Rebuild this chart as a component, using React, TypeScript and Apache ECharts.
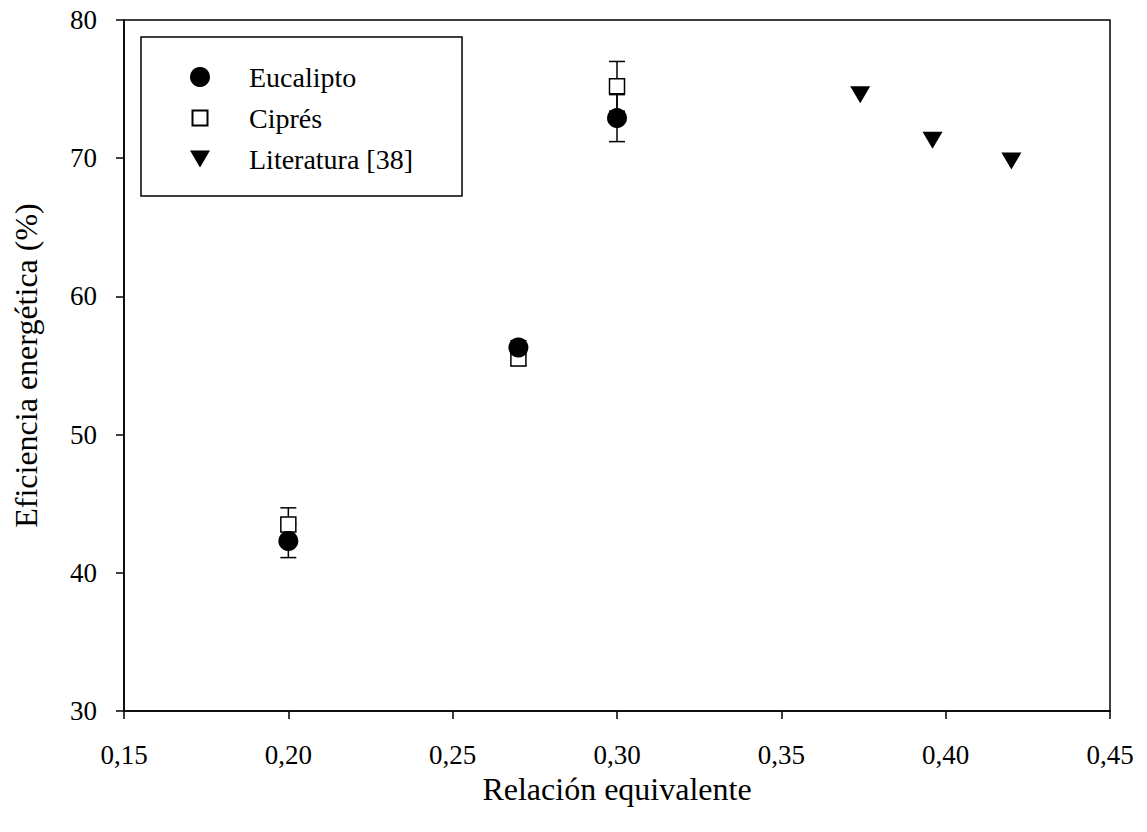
import React, { useEffect, useRef } from "react";
import * as echarts from "echarts";

// ---- Data ----
const xTicks = [0.15, 0.2, 0.25, 0.3, 0.35, 0.4, 0.45];
const yTicks = [30, 40, 50, 60, 70, 80];

const relEucalipto = [0.2, 0.27, 0.3];
const effEucalipto = [42.3, 56.3, 72.9];
const errEucalipto = [1.2, 0.5, 1.7];

const relCipres = [0.2, 0.27, 0.3];
const effCipres = [43.5, 55.5, 75.2];
const errCipres = [1.2, 0.5, 1.8];

const relLiteratura = [0.374, 0.396, 0.42];
const effLiteratura = [74.6, 71.3, 69.8];

const seriesNames = ["Eucalipto", "Ciprés", "Literatura [38]"];
const xTitle = "Relación equivalente";
const yTitle = "Eficiencia energética (%)";

const FONT = "Liberation Serif";
const TRI = "path://M0,0L20,0L10,17Z";
const SQUARE_ICON = "path://M0,0M20,20M2.5,2.5L17.5,2.5L17.5,17.5L2.5,17.5Z";

function errRender(params: any, api: any) {
  const x = api.value(0);
  const lo = api.value(1);
  const hi = api.value(2);
  const p1 = api.coord([x, lo]);
  const p2 = api.coord([x, hi]);
  const w = 8;
  const st = { stroke: "#000", lineWidth: 1.5 };
  return {
    type: "group",
    children: [
      { type: "line", shape: { x1: p1[0], y1: p1[1], x2: p2[0], y2: p2[1] }, style: st },
      { type: "line", shape: { x1: p1[0] - w, y1: p1[1], x2: p1[0] + w, y2: p1[1] }, style: st },
      { type: "line", shape: { x1: p2[0] - w, y1: p2[1], x2: p2[0] + w, y2: p2[1] }, style: st },
    ],
  };
}

export default function App() {
  const ref = useRef<HTMLDivElement>(null);
  useEffect(() => {
    if (!ref.current) return;
    const chart = echarts.init(ref.current, null, { renderer: "svg" });
    const fmt = (v: number) => "{t|" + v.toFixed(2).replace(".", ",") + "}";
    const fmtY = (v: number) => "{t|" + v + "}";
    const errEuc = relEucalipto.map((x, i) => [x, effEucalipto[i] - errEucalipto[i], effEucalipto[i] + errEucalipto[i]]);
    const errCip = relCipres.map((x, i) => [x, effCipres[i] - errCipres[i], effCipres[i] + errCipres[i]]);
    const rich = { t: { fontFamily: FONT, fontSize: 27, color: "#000" } };
    chart.setOption({
      animation: false,
      backgroundColor: "#fff",
      textStyle: { fontFamily: FONT, fontSize: 27 },
      grid: {
        left: 124,
        right: 37,
        top: 20,
        bottom: 121,
        show: true,
        borderColor: "#000",
        borderWidth: 1.5,
      },
      legend: {
        orient: "vertical",
        left: 141,
        top: 37,
        backgroundColor: "#fff",
        borderColor: "#000",
        borderWidth: 1.5,
        borderRadius: 0,
        padding: [26, 49, 23, 48],
        itemWidth: 20,
        itemHeight: 20,
        itemGap: 13,
        formatter: (name: string) => "{l|" + name + "}",
        textStyle: {
          fontFamily: FONT,
          fontSize: 28,
          color: "#000",
          padding: [0, 0, 0, 34],
          rich: { l: { fontFamily: FONT, fontSize: 28, color: "#000" } },
        },
        data: [
          { name: seriesNames[0], icon: "circle", itemStyle: { opacity: 1 } },
          { name: seriesNames[1], icon: SQUARE_ICON, itemStyle: { opacity: 1 } },
          { name: seriesNames[2], icon: TRI, itemStyle: { opacity: 1 } },
        ],
      },
      xAxis: {
        type: "value",
        min: xTicks[0],
        max: xTicks[xTicks.length - 1],
        interval: 0.05,
        splitLine: { show: false },
        axisLine: { show: true, onZero: false, lineStyle: { color: "#000", width: 1.5 } },
        axisTick: { show: true, inside: false, length: 8, lineStyle: { color: "#000", width: 1.5 } },
        axisLabel: { formatter: fmt, rich, fontFamily: FONT, fontSize: 27, color: "#000", margin: 30 },
        name: xTitle,
        nameLocation: "middle",
        nameGap: 58,
        nameTextStyle: { fontFamily: FONT, fontSize: 32, color: "#000" },
      },
      yAxis: {
        type: "value",
        min: yTicks[0],
        max: yTicks[yTicks.length - 1],
        interval: 10,
        splitLine: { show: false },
        axisLine: { show: true, onZero: false, lineStyle: { color: "#000", width: 1.5 } },
        axisTick: { show: true, inside: false, length: 8, lineStyle: { color: "#000", width: 1.5 } },
        axisLabel: { formatter: fmtY, rich, fontFamily: FONT, fontSize: 27, color: "#000", margin: 27 },
        name: yTitle,
        nameLocation: "middle",
        nameGap: 82,
        nameTextStyle: { fontFamily: FONT, fontSize: 32, color: "#000" },
      },
      series: [
        {
          type: "custom",
          name: "errCipres",
          renderItem: errRender,
          data: errCip,
          z: 1,
          silent: true,
        },
        {
          type: "custom",
          name: "errEucalipto",
          renderItem: errRender,
          data: errEuc,
          z: 1,
          silent: true,
        },
        {
          type: "scatter",
          name: seriesNames[1],
          data: relCipres.map((x, i) => [x, effCipres[i]]),
          symbol: "rect",
          symbolSize: 15,
          itemStyle: { color: "#fff", borderColor: "#000", borderWidth: 1.5, opacity: 1 },
          z: 2,
        },
        {
          type: "scatter",
          name: seriesNames[0],
          data: relEucalipto.map((x, i) => [x, effEucalipto[i]]),
          symbol: "circle",
          symbolSize: 20,
          itemStyle: { color: "#000", opacity: 1 },
          z: 3,
        },
        {
          type: "scatter",
          name: seriesNames[2],
          data: relLiteratura.map((x, i) => [x, effLiteratura[i]]),
          symbol: TRI,
          symbolSize: [20, 17],
          itemStyle: { color: "#000", opacity: 1 },
          z: 3,
        },
      ],
    });
    return () => chart.dispose();
  }, []);
  return <div ref={ref} style={{ width: 1147, height: 832, position: "absolute", left: 0, top: 0 }} />;
}
